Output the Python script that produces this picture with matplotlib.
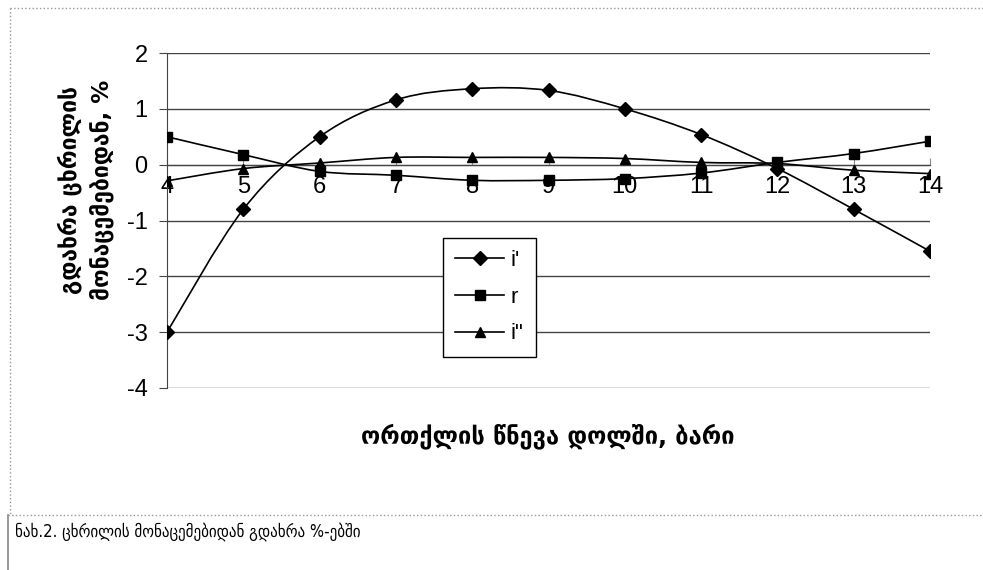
import matplotlib.pyplot as plt
from matplotlib.path import Path
from matplotlib.patches import PathPatch
from matplotlib.lines import Line2D

# data
pressure = [4, 5, 6, 7, 8, 9, 10, 11, 12, 13, 14]
i_prime = [-3.0, -0.8, 0.5, 1.16, 1.36, 1.33, 1.0, 0.54, -0.07, -0.8, -1.55]
r_vals = [0.5, 0.18, -0.12, -0.19, -0.28, -0.28, -0.25, -0.15, 0.04, 0.2, 0.42]
i_dprime = [-0.29, -0.07, 0.03, 0.13, 0.13, 0.13, 0.11, 0.04, 0.02, -0.1, -0.16]

y_ticks = [-4, -3, -2, -1, 0, 1, 2]
ylabel = 'გდახრა ცხრილის\nმონაცემებიდან, %'
xlabel = 'ორთქლის წნევა დოლში, ბარი'
caption = 'ნახ.2. ცხრილის მონაცემებიდან გდახრა %-ებში'

plt.rcParams['font.family'] = ['Liberation Sans', 'DejaVu Sans']
plt.rcParams['axes.unicode_minus'] = False
geo_font = ['DejaVu Sans', 'DejaVu Serif']


def smooth_path(xs, ys):
    # Catmull-Rom style smoothing, drawn as cubic bezier segments
    verts = [(xs[0], ys[0])]
    codes = [Path.MOVETO]
    n = len(xs)
    for k in range(n - 1):
        x0, y0 = xs[max(k - 1, 0)], ys[max(k - 1, 0)]
        x1, y1 = xs[k], ys[k]
        x2, y2 = xs[k + 1], ys[k + 1]
        x3, y3 = xs[min(k + 2, n - 1)], ys[min(k + 2, n - 1)]
        c1 = (x1 + (x2 - x0) / 6, y1 + (y2 - y0) / 6)
        c2 = (x2 - (x3 - x1) / 6, y2 - (y3 - y1) / 6)
        verts += [c1, c2, (x2, y2)]
        codes += [Path.CURVE4] * 3
    return Path(verts, codes)


fig = plt.figure(figsize=(9.83, 5.70), dpi=100)
ax = fig.add_axes([167 / 983, 1 - 388 / 570, (930 - 167) / 983, (388 - 53) / 570])

for y in y_ticks:
    ax.axhline(y, color='#444444', lw=1.0, zorder=1)

series = [(i_prime, 'D', 7, "i'"), (r_vals, 's', 6.5, 'r'), (i_dprime, '^', 7.5, 'i"')]
handles = []
for vals, mk, ms, name in series:
    ax.add_patch(PathPatch(smooth_path(pressure, vals), fill=False, ec='black', lw=1.2, zorder=3))
    ax.plot(pressure, vals, ls='none', marker=mk, ms=ms, color='black', zorder=4)
    handles.append(Line2D([], [], color='black', lw=1.2, marker=mk, ms=ms, label=name))

ax.set_xlim(4, 14)
ax.set_ylim(-4, 2)
ax.set_yticks(y_ticks)
ax.set_xticks(pressure)
ax.spines['top'].set_visible(False)
ax.spines['right'].set_visible(False)
ax.spines['bottom'].set_position(('data', 0))
ax.spines['bottom'].set_color('#444444')
ax.spines['left'].set_color('#444444')
ax.tick_params(axis='x', direction='in', length=5, color='#888888', pad=8, labelsize=17)
ax.tick_params(axis='y', direction='out', length=6, color='#444444', pad=8, labelsize=17)

leg = ax.legend(handles=handles, loc='upper left', bbox_to_anchor=((443 - 167) / 763, (388 - 238) / 335),
                borderaxespad=0, frameon=True, fancybox=False, edgecolor='black', framealpha=1,
                prop={'size': 16}, handlelength=2.2, labelspacing=0.7,
                borderpad=0.55, handletextpad=0.3)
leg.get_frame().set_linewidth(1.0)

fig.text(86 / 983, 1 - 190 / 570, ylabel, rotation=90, ha='center', va='center',
         family=geo_font, fontweight='bold', fontsize=16.5, linespacing=1.4)
fig.text(548 / 983, 1 - 436 / 570, xlabel, ha='center', va='center',
         family=geo_font, fontweight='bold', fontsize=17)
fig.text(15 / 983, 1 - 532 / 570, caption, ha='left', va='center',
         family=geo_font, fontsize=12, fontstretch='condensed')

# frame lines around the figure and caption
fig.add_artist(Line2D([10 / 983, 1], [1 - 8 / 570] * 2, color='#999999', lw=1, ls=':'))
fig.add_artist(Line2D([10 / 983] * 2, [1 - 8 / 570, 1 - 515 / 570], color='#999999', lw=1, ls=':'))
fig.add_artist(Line2D([8 / 983, 1], [1 - 515 / 570] * 2, color='#999999', lw=1, ls=':'))
fig.add_artist(Line2D([8 / 983] * 2, [1 - 515 / 570, 0], color='#888888', lw=1.2))

fig.savefig('out.png', dpi=100)
